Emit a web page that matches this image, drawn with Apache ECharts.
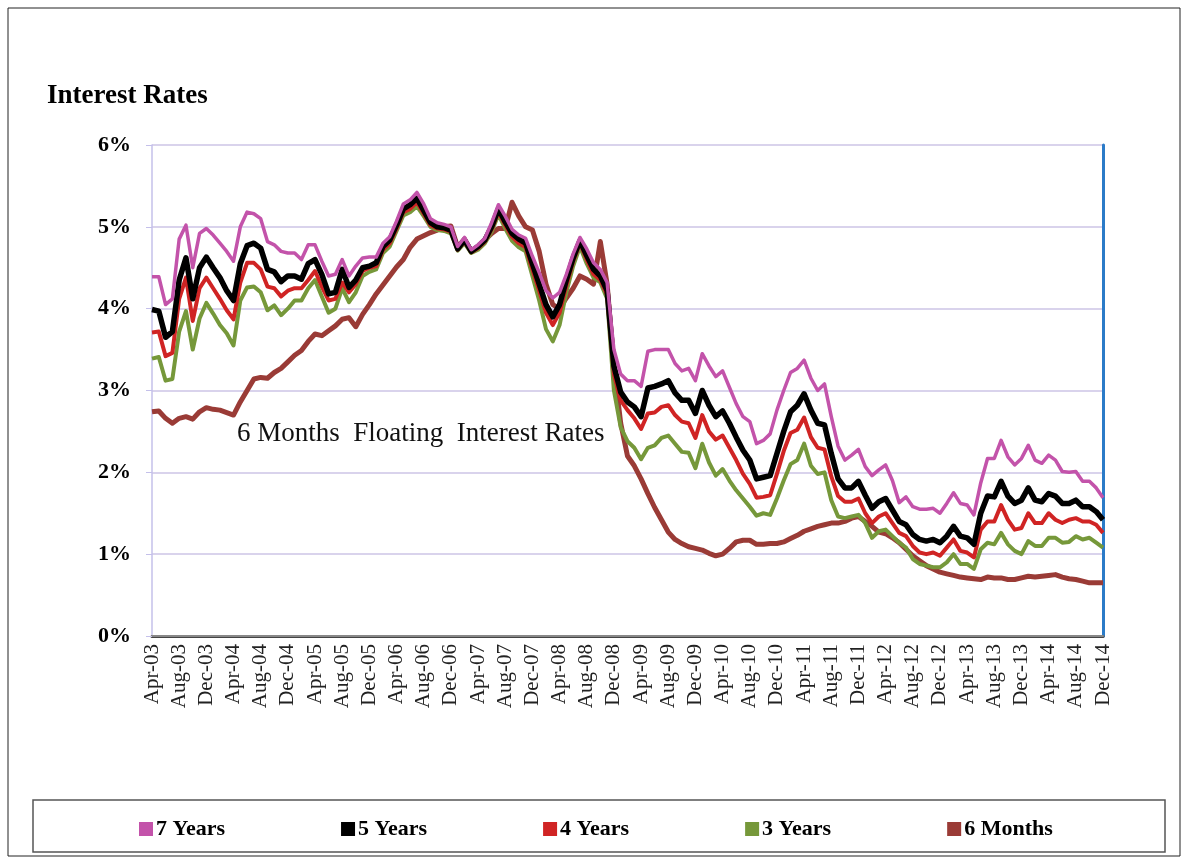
<!DOCTYPE html>
<html>
<head>
<meta charset="utf-8">
<script src="https://cdn.jsdelivr.net/npm/echarts@6/dist/echarts.min.js"></script>
<style>
  body { margin: 0; background: #fff; }
  #main { width: 1188px; height: 862px; }
</style>
</head>
<body>
<div id="main"></div>
<script>
// monthly, Apr-03 .. Dec-14
var monthNames = ["Jan", "Feb", "Mar", "Apr", "May", "Jun", "Jul", "Aug", "Sep", "Oct", "Nov", "Dec"];
var months = [];
for (var y = 3; y <= 14; y++) {
  for (var m = 0; m < 12; m++) {
    if (y === 3 && m < 3) continue;
    months.push(monthNames[m] + "-" + (y < 10 ? "0" + y : y));
  }
}

var years7 = [4.39, 4.39, 4.05, 4.12, 4.85, 5.02, 4.5, 4.92, 4.98, 4.9, 4.8, 4.7, 4.58, 5.0, 5.18, 5.16, 5.1, 4.82, 4.78, 4.7, 4.68, 4.68, 4.6, 4.78, 4.78, 4.58, 4.4, 4.42, 4.6, 4.4, 4.52, 4.62, 4.63, 4.63,
  4.8, 4.88, 5.07, 5.28, 5.33, 5.42, 5.28, 5.1, 5.05, 5.03, 5.0, 4.76, 4.87, 4.72, 4.78, 4.86, 5.05, 5.27, 5.13, 4.97, 4.9, 4.86, 4.64, 4.44, 4.22, 4.13, 4.2, 4.42, 4.67, 4.87, 4.73, 4.56, 4.48, 4.32,
  3.5, 3.2, 3.12, 3.12, 3.05, 3.48, 3.5, 3.5, 3.5, 3.33, 3.24, 3.27, 3.12, 3.45, 3.3, 3.17, 3.24, 3.04, 2.84, 2.68, 2.62, 2.35, 2.39, 2.47, 2.76, 3.0, 3.22, 3.27,
  3.37, 3.15, 3.0, 3.08, 2.68, 2.32, 2.15, 2.21, 2.28, 2.07, 1.96, 2.03, 2.09, 1.9, 1.63, 1.7, 1.58, 1.55, 1.55, 1.56, 1.5, 1.62, 1.75, 1.62, 1.6, 1.48, 1.87, 2.17, 2.17, 2.39, 2.19, 2.09, 2.17, 2.33, 2.15, 2.11, 2.21, 2.15, 2.01, 2.0, 2.01, 1.89, 1.89, 1.81, 1.69];

var years5 = [3.99, 3.97, 3.65, 3.72, 4.35, 4.62, 4.12, 4.5, 4.63, 4.5, 4.38, 4.22, 4.1, 4.55, 4.77, 4.8, 4.74, 4.48, 4.45, 4.33, 4.4, 4.4, 4.36, 4.55, 4.6, 4.42, 4.18, 4.2, 4.48, 4.26, 4.35, 4.5, 4.52, 4.56,
  4.76, 4.84, 5.02, 5.22, 5.27, 5.35, 5.2, 5.05, 5.0, 4.99, 4.96, 4.73, 4.84, 4.7, 4.76, 4.84, 5.0, 5.22, 5.06, 4.92, 4.85, 4.8, 4.55, 4.3, 4.05, 3.9, 4.05, 4.35, 4.62, 4.83, 4.65, 4.48, 4.4, 4.22,
  3.3, 2.98, 2.86, 2.8, 2.68, 3.03, 3.05, 3.08, 3.12, 2.97, 2.88, 2.88, 2.72, 3.0, 2.82, 2.68, 2.75, 2.6, 2.43, 2.27, 2.15, 1.92, 1.94, 1.96, 2.23, 2.5, 2.74, 2.82,
  2.96, 2.76, 2.6, 2.58, 2.23, 1.92, 1.81, 1.81, 1.89, 1.72, 1.56, 1.64, 1.68, 1.54, 1.4, 1.36, 1.24, 1.18, 1.16, 1.18, 1.14, 1.22, 1.34, 1.22, 1.2, 1.12, 1.5, 1.71, 1.7, 1.89, 1.71, 1.62, 1.66, 1.81, 1.66, 1.64, 1.74, 1.71, 1.62, 1.62, 1.66, 1.58, 1.58, 1.52, 1.42];

var years4 = [3.71, 3.72, 3.42, 3.46, 4.12, 4.38, 3.85, 4.25, 4.38, 4.25, 4.12, 3.98, 3.87, 4.32, 4.56, 4.56, 4.48, 4.27, 4.25, 4.15, 4.22, 4.25, 4.25, 4.35, 4.46, 4.27, 4.1, 4.12, 4.32, 4.2, 4.3, 4.46, 4.5, 4.52,
  4.72, 4.8, 4.98, 5.18, 5.22, 5.3, 5.16, 5.02, 4.98, 4.97, 4.94, 4.72, 4.82, 4.69, 4.74, 4.82, 4.97, 5.18, 5.02, 4.88, 4.8, 4.75, 4.48, 4.22, 3.95, 3.8, 3.95, 4.28, 4.58, 4.8, 4.6, 4.42, 4.35, 4.17,
  3.2, 2.88, 2.76, 2.66, 2.53, 2.72, 2.73, 2.8, 2.82, 2.7, 2.62, 2.6, 2.42, 2.7, 2.5, 2.4, 2.45, 2.3, 2.15, 1.98, 1.86, 1.69, 1.7, 1.72, 1.98, 2.26, 2.48, 2.52,
  2.67, 2.43, 2.3, 2.28, 1.95, 1.71, 1.64, 1.64, 1.68, 1.5, 1.38, 1.46, 1.5, 1.38, 1.26, 1.22, 1.1, 1.02, 1.0, 1.02, 0.98, 1.08, 1.18, 1.04, 1.02, 0.96, 1.3, 1.4, 1.4, 1.6, 1.42, 1.3, 1.32, 1.5, 1.38, 1.38, 1.5, 1.42, 1.38, 1.42, 1.44, 1.4, 1.4, 1.36, 1.26];

var years3 = [3.39, 3.41, 3.12, 3.14, 3.72, 3.97, 3.5, 3.88, 4.07, 3.94, 3.8, 3.7, 3.55, 4.1, 4.26, 4.27, 4.2, 3.98, 4.04, 3.92, 4.0, 4.1, 4.1, 4.25, 4.35, 4.15, 3.95, 4.0, 4.25, 4.08, 4.2, 4.4, 4.45, 4.48,
  4.68, 4.76, 4.95, 5.14, 5.18, 5.25, 5.13, 5.0, 4.96, 4.95, 4.92, 4.71, 4.8, 4.68, 4.72, 4.8, 4.94, 5.15, 4.98, 4.83, 4.75, 4.7, 4.4, 4.1, 3.75, 3.6, 3.8, 4.2, 4.52, 4.76, 4.55, 4.38, 4.32, 4.12,
  3.0, 2.55, 2.38, 2.3, 2.16, 2.3, 2.33, 2.42, 2.45, 2.35, 2.25, 2.24, 2.05, 2.35, 2.12, 1.96, 2.04, 1.9, 1.78, 1.68, 1.58, 1.47, 1.5, 1.48, 1.68, 1.9, 2.1, 2.15,
  2.35, 2.08, 1.98, 2.0, 1.66, 1.46, 1.44, 1.46, 1.48, 1.38, 1.2, 1.28, 1.3, 1.22, 1.14, 1.08, 0.94, 0.88, 0.86, 0.84, 0.84, 0.9, 1.0, 0.88, 0.88, 0.82, 1.06, 1.14, 1.12, 1.26, 1.12, 1.04, 1.0, 1.16, 1.1, 1.1, 1.2, 1.2, 1.14, 1.15, 1.22, 1.18, 1.2, 1.14, 1.08];

var months6 = [2.74, 2.75, 2.66, 2.6, 2.66, 2.68, 2.65, 2.74, 2.79, 2.77, 2.76, 2.73, 2.7, 2.86, 3.0, 3.14, 3.16, 3.15, 3.22, 3.27, 3.35, 3.43, 3.49, 3.6, 3.69, 3.67, 3.73, 3.79, 3.87, 3.89, 3.78, 3.93, 4.05, 4.18,
  4.29, 4.4, 4.51, 4.6, 4.75, 4.85, 4.89, 4.93, 4.96, 5.0, 5.01, 4.75, 4.85, 4.7, 4.76, 4.84, 4.92, 4.98, 4.98, 5.3, 5.13, 5.0, 4.96, 4.7, 4.3, 4.05, 4.0, 4.13, 4.25, 4.4, 4.36, 4.3, 4.82, 4.3,
  3.3, 2.6, 2.2, 2.08, 1.92, 1.74, 1.57, 1.42, 1.27, 1.18, 1.13, 1.09, 1.07, 1.05, 1.01, 0.98, 1.0, 1.07, 1.15, 1.17, 1.17, 1.12, 1.12, 1.13, 1.13, 1.15, 1.19, 1.23,
  1.28, 1.31, 1.34, 1.36, 1.38, 1.38, 1.4, 1.44, 1.46, 1.4, 1.34, 1.27, 1.25, 1.2, 1.14, 1.06, 0.98, 0.92, 0.86, 0.82, 0.78, 0.76, 0.74, 0.72, 0.71, 0.7, 0.69, 0.72, 0.71, 0.71, 0.69, 0.69, 0.71, 0.73, 0.72, 0.73, 0.74, 0.75, 0.72, 0.7, 0.69, 0.67, 0.65, 0.65, 0.65];

var serif = "Liberation Serif, Times New Roman, serif";
var chart = echarts.init(document.getElementById("main"));

function line(name, data, color, width) {
  return {
    name: name,
    type: "line",
    data: data,
    symbol: "none",
    smooth: false,
    animation: false,
    lineStyle: { color: color, width: width, join: "round" },
    itemStyle: { color: color }
  };
}

chart.setOption({
  backgroundColor: "#fff",
  textStyle: { fontFamily: serif },
  grid: { left: 152, right: 85, top: 145, bottom: 226 },
  legend: {
    data: ["7 Years", "5 Years", "4 Years", "3 Years", "6 Months"],
    left: 139,
    top: 818,
    padding: 0,
    icon: "rect",
    itemWidth: 14,
    itemHeight: 14,
    itemGap: 116,
    textStyle: { fontFamily: serif, fontWeight: "bold", fontSize: 22, color: "#000", padding: [0, 0, 0, -2] }
  },
  graphic: [
    { type: "rect", shape: { x: 8, y: 8, width: 1172, height: 848 }, style: { fill: "none", stroke: "#222", lineWidth: 1 }, silent: true },
    { type: "rect", shape: { x: 33, y: 800, width: 1132, height: 52 }, style: { fill: "none", stroke: "#555", lineWidth: 1.5 }, silent: true },
    { type: "text", x: 47, y: 83, style: { text: "Interest Rates", font: "bold 27px " + serif, fill: "#000" } },
    { type: "text", x: 237, y: 420, style: { text: "6 Months  Floating  Interest Rates", font: "27px " + serif, fill: "#111" } }
  ],
  xAxis: [
    {
      type: "category",
      data: months,
      boundaryGap: false,
      axisLine: { lineStyle: { color: "#444", width: 3 } },
      axisTick: { show: false },
      axisLabel: { interval: 3, rotate: 90, fontSize: 21, color: "#222", fontFamily: serif, margin: 8 },
      splitLine: { show: false }
    },
    {
      type: "category",
      data: months,
      boundaryGap: false,
      position: "top",
      axisLine: { lineStyle: { color: "#888", width: 2 } },
      axisTick: { show: false },
      axisLabel: { show: false }
    }
  ],
  yAxis: [
    {
      type: "value",
      min: 0,
      max: 6,
      interval: 1,
      axisLine: { show: true, lineStyle: { color: "#c4c0ea", width: 1.5 } },
      axisTick: { show: true, length: 6, lineStyle: { color: "#c4c0ea" } },
      axisLabel: { formatter: "{value}%", fontSize: 22, fontWeight: "bold", color: "#000", fontFamily: serif, margin: 21 },
      splitLine: { lineStyle: { color: "#cdc5e6", width: 1.5 } }
    },
    {
      type: "value",
      min: 0,
      max: 6,
      interval: 1,
      position: "right",
      axisLine: { show: true, lineStyle: { color: "#2b7bc8", width: 3 } },
      axisTick: { show: false },
      axisLabel: { show: false },
      splitLine: { show: false }
    }
  ],
  series: [
    line("6 Months", months6, "#9a3b36", 5),
    line("3 Years", years3, "#76983a", 4),
    line("4 Years", years4, "#d02424", 4),
    line("5 Years", years5, "#000000", 5.5),
    line("7 Years", years7, "#c353aa", 3.5)
  ]
});
</script>
</body>
</html>
